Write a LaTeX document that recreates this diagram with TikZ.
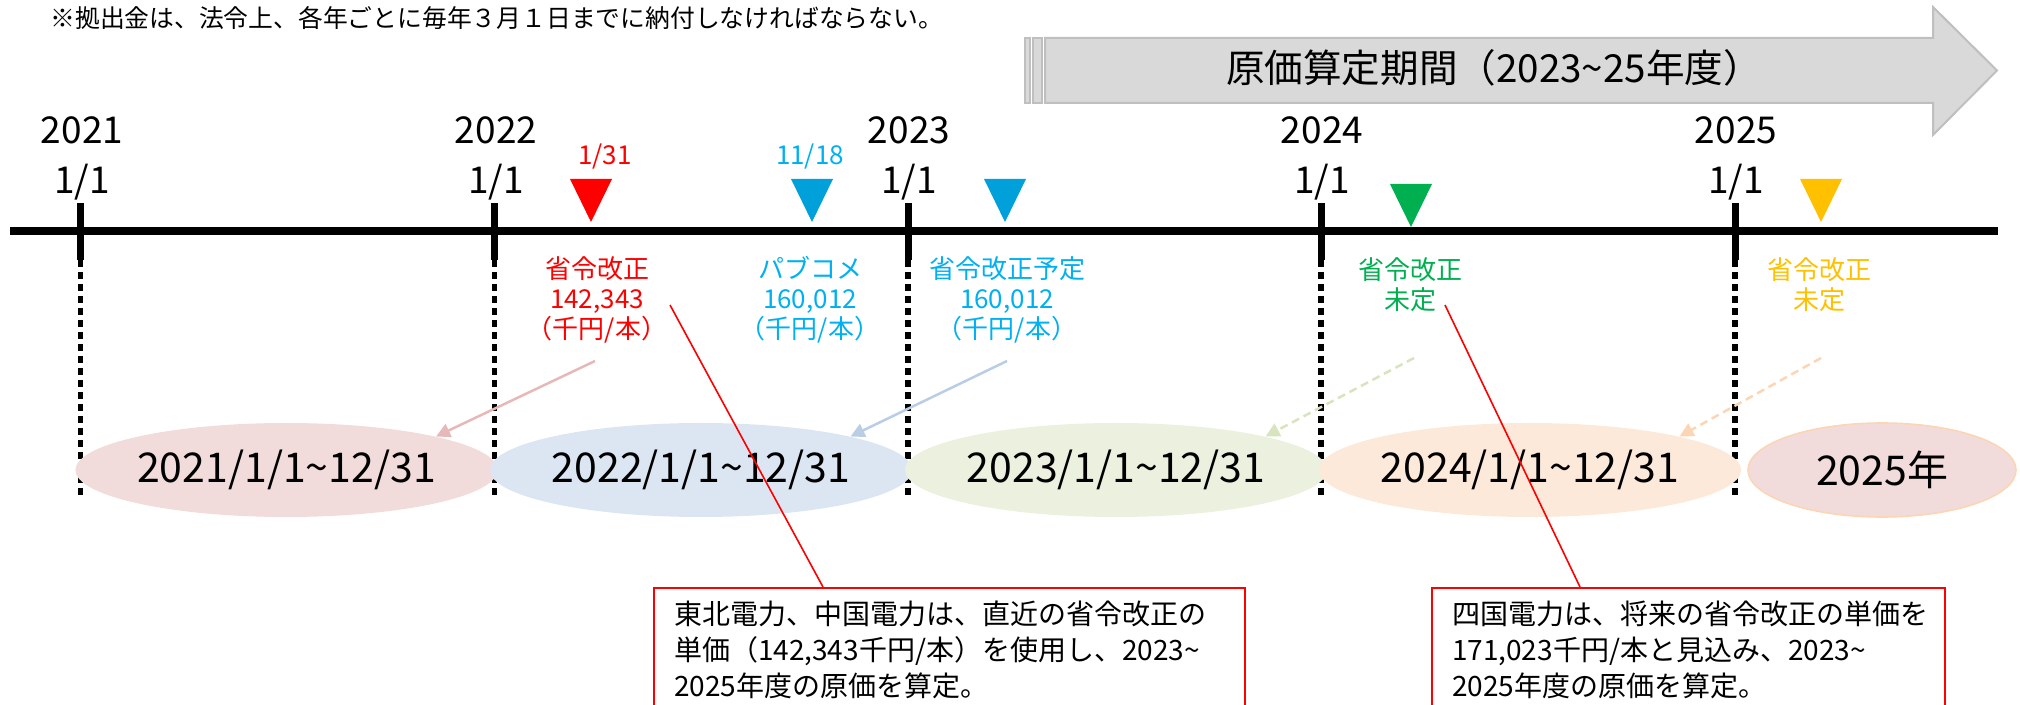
\documentclass[tikz,border=0pt]{standalone}
\usepackage{fontspec}
\setmainfont{Noto Sans CJK JP}
\usetikzlibrary{shapes.geometric,arrows.meta}
\definecolor{mred}{HTML}{FF0000}
\definecolor{mcyan}{HTML}{00B0F0}
\definecolor{mblue}{HTML}{00A0DA}
\definecolor{mgreen}{HTML}{00B050}
\definecolor{myellow}{HTML}{FFC000}
\definecolor{fpink}{HTML}{F2DCDB}
\definecolor{fblue}{HTML}{DCE6F2}
\definecolor{fgreen}{HTML}{EBF1DE}
\definecolor{forange}{HTML}{FDE9D9}
\definecolor{apink}{HTML}{E6B9B8}
\definecolor{ablue}{HTML}{B9CDE5}
\definecolor{agreen}{HTML}{D7E4BD}
\definecolor{aorange}{HTML}{FCD5B5}
\definecolor{gfill}{HTML}{D9D9D9}
\definecolor{gline}{HTML}{BFBFBF}
\begin{document}
\begin{tikzpicture}[x=0.5pt,y=-0.5pt,
  yearlbl/.style={font=\fontsize{18.5pt}{25pt}\selectfont,align=center,inner sep=0},
  evlbl/.style={font=\fontsize{13pt}{15pt}\selectfont,align=center,inner sep=0},
  period/.style={ellipse,inner sep=0,minimum height=47pt,font=\fontsize{20.5pt}{24pt}\selectfont},
  tickline/.style={line width=3.5pt},
  dotline/.style={line width=2.8pt,dash pattern=on 3.5pt off 2.5pt},
  ptr/.style={line width=1.25pt,-{Triangle[length=7pt,width=7pt]}},
  dptr/.style={ptr,dash pattern=on 4pt off 2.5pt},
  noteline/.style={mred,line width=0.8pt},
  notebox/.style={draw=mred,line width=1pt,align=left,inner xsep=10pt,inner ysep=0pt,minimum height=62pt,font=\fontsize{14pt}{18pt}\selectfont}
]
\useasboundingbox (0,0) rectangle (2020,705);
\clip (0,0) rectangle (2020,705);

% note
\node[anchor=west,inner sep=0,font=\fontsize{12.4pt}{14pt}\selectfont] (note) at (50,18) {※拠出金は、法令上、各年ごとに毎年３月１日までに納付しなければならない。};

% period arrow
\filldraw[fill=gfill,draw=gline,line width=1pt] (1025,38) rectangle (1030,103);
\filldraw[fill=gfill,draw=gline,line width=1pt] (1033,38) rectangle (1042,103);
\filldraw[fill=gfill,draw=gline,line width=1pt] (1045,38) -- (1933,38) -- (1933,7) -- (1997,70.5) -- (1933,135) -- (1933,103) -- (1045,103) -- cycle;
\node[inner sep=0,font=\fontsize{19.3pt}{22pt}\selectfont] (period) at (1494,68) {原価算定期間（2023\textasciitilde25年度）};

% dotted year lines
\foreach \x in {80.5,494.5,908,1321,1735}{
  \draw[dotline] (\x,260) -- (\x,497);
}

% ellipses
\node[period,fill=fpink,minimum width=206.5pt] (e2021) at (286.5,470) {2021/1/1\textasciitilde12/31};
\node[period,fill=fblue,minimum width=206pt] (e2022) at (701,470) {2022/1/1\textasciitilde12/31};
\node[period,fill=fgreen,minimum width=205.5pt] (e2023) at (1116,470) {2023/1/1\textasciitilde12/31};
\node[period,fill=forange,minimum width=205pt] (e2024) at (1530,470) {2024/1/1\textasciitilde12/31};
\node[period,fill=fpink,draw=aorange,line width=0.8pt,minimum width=134pt] (e2025) at (1882,470) {2025年};

% main time line and ticks
\draw[line width=4pt] (10,231) -- (1998,231);
\foreach \x in {80.5,494.5,908,1321,1735}{
  \draw[tickline] (\x,203) -- (\x,260);
}

% year labels
\node[yearlbl] (y2021) at (82,158) {2021\\1/1};
\node[yearlbl] (y2022) at (496,158) {2022\\1/1};
\node[yearlbl] (y2023) at (909,158) {2023\\1/1};
\node[yearlbl] (y2024) at (1322,158) {2024\\1/1};
\node[yearlbl] (y2025) at (1736,158) {2025\\1/1};

% markers
\fill[mred] (570,179) -- (612,179) -- (591,222) -- cycle;
\fill[mblue] (791,179) -- (833,179) -- (812,222) -- cycle;
\fill[mblue] (984,179) -- (1026,179) -- (1005,222) -- cycle;
\fill[mgreen] (1390,184) -- (1432,184) -- (1411,227) -- cycle;
\fill[myellow] (1800,179) -- (1842,179) -- (1821,222) -- cycle;

\node[evlbl,text=mred] (d131) at (605,157) {1/31};
\node[evlbl,text=mcyan] (d1118) at (810,157) {11/18};

% event labels
\node[evlbl,text=mred] (ev1) at (597,300) {省令改正\\142,343\\（千円/本）};
\node[evlbl,text=mcyan] (ev2) at (810,300) {パブコメ\\160,012\\（千円/本）};
\node[evlbl,text=mcyan] (ev3) at (1007,300) {省令改正予定\\160,012\\（千円/本）};
\node[evlbl,text=mgreen] (ev4) at (1410,285) {省令改正\\未定};
\node[evlbl,text=myellow] (ev5) at (1819,285) {省令改正\\未定};

% pointer arrows
\coordinate (s1) at (595,361);
\coordinate (s2) at (1007,361);
\coordinate (s3) at (1414,358);
\coordinate (s4) at (1821,358);
\draw[ptr,apink] (s1) -- (e2021.north east);
\draw[ptr,ablue] (s2) -- (e2022.north east);
\draw[dptr,agreen] (s3) -- (e2023.north east);
\draw[dptr,aorange] (s4) -- (e2024.north east);

% callout boxes
\node[notebox,minimum width=295.5pt,text width=275.5pt] (box1) at (949.5,650) {東北電力、中国電力は、直近の省令改正の\\単価（142,343千円/本）を使用し、2023\textasciitilde\\2025年度の原価を算定。};
\node[notebox,minimum width=256.5pt,text width=236.5pt] (box2) at (1688.5,650) {四国電力は、将来の省令改正の単価を\\171,023千円/本と見込み、2023\textasciitilde\\2025年度の原価を算定。};

\coordinate (c1) at (670,305);
\coordinate (c2) at (1445,305);
\draw[noteline] (c1) -- (box1.north west -| 823,0);
\draw[noteline] (c2) -- (box2.north west -| 1580,0);
\end{tikzpicture}
\end{document}
